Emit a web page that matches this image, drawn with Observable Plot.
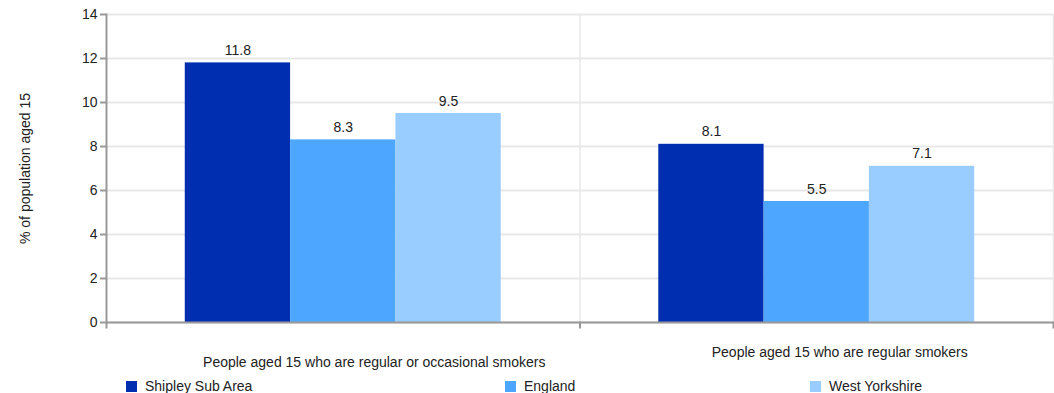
<!DOCTYPE html>
<html><head><meta charset="utf-8">
<script src="https://cdn.jsdelivr.net/npm/d3@7"></script>
<script src="https://cdn.jsdelivr.net/npm/@observablehq/plot@0.6"></script>
<style>
body{margin:0;font-family:"Liberation Sans",Arial,sans-serif;background:#fff}
#legend{position:relative;height:21px;font-size:14px;color:#222;width:1054px}
.item{position:absolute;top:7px;display:flex;align-items:center;line-height:14px}
.sw{width:11px;height:11px;margin-right:8px}
</style></head>
<body><div id="chart"></div><div id="legend"></div>
<script>
const categories = ["People aged 15 who are regular or occasional smokers", "People aged 15 who are regular smokers"];
const series = ["Shipley Sub Area", "England", "West Yorkshire"];
const shipley = [11.8, 8.1];
const england = [8.3, 5.5];
const westYorkshire = [9.5, 7.1];
const colors = ["#002eb0", "#4da6ff", "#99ccff"];
const yTicks = [0, 2, 4, 6, 8, 10, 12, 14];

const valuesBySeries = [shipley, england, westYorkshire];
const data = [];
categories.forEach((c, i) => series.forEach((s, j) => data.push({category: c, series: s, value: valuesBySeries[j][i]})));

const font = '"Liberation Sans", Arial, sans-serif';
const chart = Plot.plot({
  width: 1054, height: 372,
  marginLeft: 106, marginRight: 1, marginTop: 14, marginBottom: 50,
  style: {fontFamily: font, fontSize: "14px", color: "#222", background: "#fff"},
  fx: {domain: categories, padding: 0, axis: null, round: false},
  x: {domain: series, paddingInner: 0, paddingOuter: 0.748, axis: null, round: false},
  y: {domain: [0, 14], axis: null},
  color: {domain: series, range: colors},
  marks: [
    Plot.gridY(yTicks, {stroke: "#e8e8e8", strokeOpacity: 1, strokeWidth: 2}),
    Plot.frame({anchor: "right", stroke: "#e8e8e8", strokeWidth: 1.5}),
    Plot.barY(data, {fx: "category", x: "series", y: "value", fill: "series"}),
    Plot.text(data, {fx: "category", x: "series", y: "value", text: d => d.value.toFixed(1), lineAnchor: "bottom", dy: -8, fontSize: 14, fill: "#222"}),
    Plot.ruleY([0], {stroke: "#999", strokeWidth: 2}),
    Plot.frame({anchor: "right", stroke: "#999", strokeWidth: 2, insetTop: 308, insetBottom: -5}),
    Plot.frame({anchor: "left", stroke: "#999", strokeWidth: 2, insetBottom: -5, facetAnchor: "left"}),
    Plot.axisY({ticks: yTicks, tickSize: 6, stroke: "#999", strokeWidth: 2, tickPadding: 3, fontSize: 14, fill: "#222",
      label: "% of population aged 15", labelAnchor: "center", labelArrow: "none", labelOffset: 86}),
    Plot.text([categories[0]], {fx: d => d, text: d => d, frameAnchor: "bottom", lineAnchor: "middle", dx: 31, dy: 40, fontSize: 14, fill: "#222"}),
    Plot.text([categories[1]], {fx: d => d, text: d => d, frameAnchor: "bottom", lineAnchor: "middle", dx: 23, dy: 30, fontSize: 14, fill: "#222"})
  ]
});
document.getElementById("chart").appendChild(chart);

const legendLefts = [126, 505, 810];
const legend = document.getElementById("legend");
series.forEach((s, i) => {
  const it = document.createElement("div");
  it.className = "item";
  it.style.left = legendLefts[i] + "px";
  it.innerHTML = `<span class="sw" style="background:${colors[i]}"></span><span>${s}</span>`;
  legend.appendChild(it);
});
</script>
</body></html>
